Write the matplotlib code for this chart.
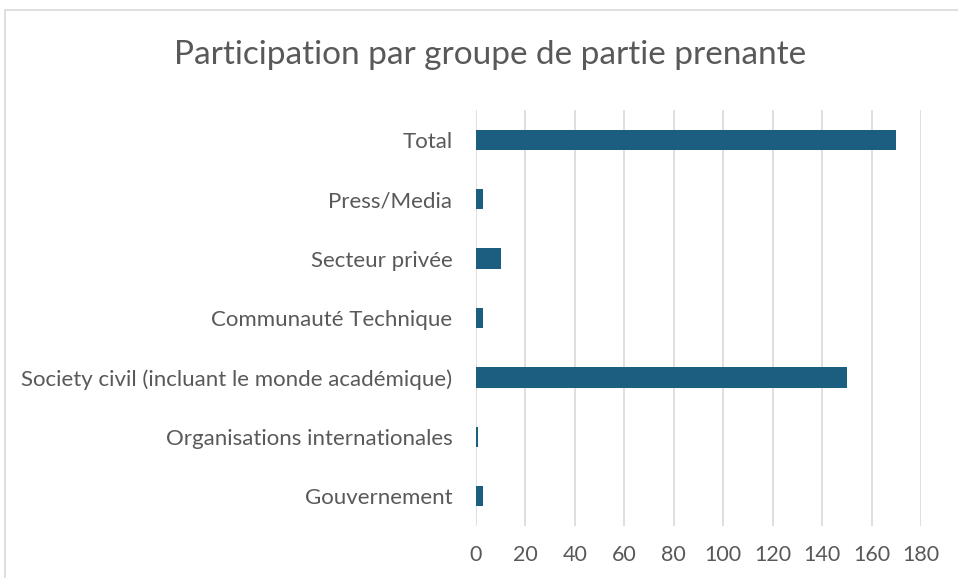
import matplotlib.pyplot as plt
from matplotlib.patches import Rectangle

# Participation data (bottom to top as drawn)
categories = ["Gouvernement", "Organisations internationales",
              "Society civil (incluant le monde académique)",
              "Communauté Technique", "Secteur privée", "Press/Media", "Total"]
values = [3, 1, 150, 3, 10, 3, 170]
xticks = [0, 20, 40, 60, 80, 100, 120, 140, 160, 180]

bar_color = "#1b5e80"
text_color = "#595959"
grid_color = "#d9d9d9"

plt.rcParams["font.family"] = ["Lato", "DejaVu Sans"]

fig = plt.figure(figsize=(9.58, 5.78), dpi=100)
ax = fig.add_axes([476 / 958, 1 - 526 / 578, (921 - 476) / 958, (526 - 110) / 578])

ax.barh(range(len(categories)), values, height=0.34, color=bar_color, zorder=3)
ax.set_yticks(range(len(categories)))
ax.set_yticklabels(categories, fontsize=16, color=text_color)
ax.set_xticks(xticks)
ax.set_xticklabels([str(t) for t in xticks], fontsize=15.5, color=text_color)
ax.set_xlim(0, 180)
ax.set_ylim(-0.5, 6.5)
ax.tick_params(axis="y", length=0, pad=17)
ax.tick_params(axis="x", length=0, pad=14)
ax.grid(axis="x", color=grid_color, linewidth=1.2, zorder=0)
for s in ax.spines.values():
    s.set_visible(False)

fig.text(490 / 958, 1 - 55 / 578, "Participation par groupe de partie prenante",
         ha="center", va="center", fontsize=24, color=text_color)

# chart area border (continues past the right and bottom edges)
fig.patches.append(Rectangle((5 / 958, -0.1), 1.2, 1 - 10 / 578 + 0.1,
                             transform=fig.transFigure, fill=False,
                             edgecolor=grid_color, linewidth=1.2))

fig.savefig("out.png", dpi=100)
